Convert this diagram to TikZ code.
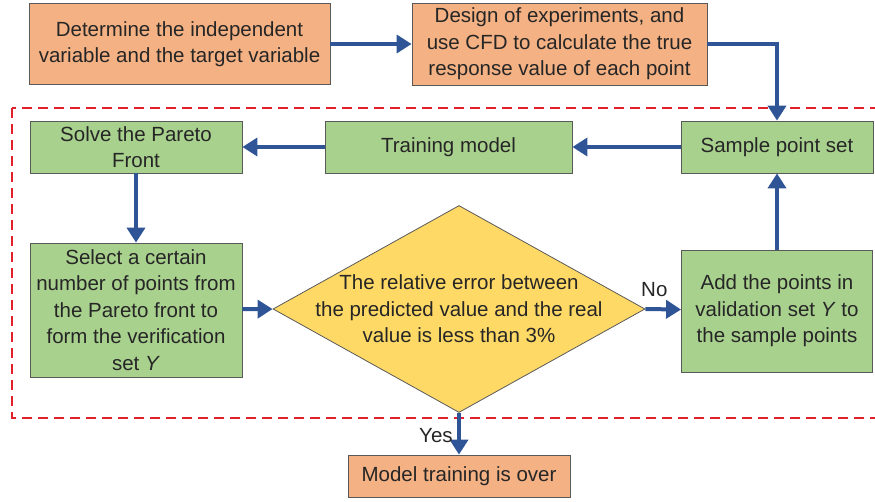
\documentclass[tikz,border=0pt]{standalone}
\usepackage{fontspec}
\setmainfont{Liberation Sans}
\usetikzlibrary{arrows.meta,positioning,shapes.geometric}

\definecolor{boxO}{HTML}{F4B183}
\definecolor{boxG}{HTML}{A9D18E}
\definecolor{boxY}{HTML}{FFD966}
\definecolor{flow}{HTML}{2F5597}
\definecolor{edge}{HTML}{595959}
\definecolor{ink}{HTML}{262626}
\definecolor{frameRed}{HTML}{E0202A}

\begin{document}
\begin{tikzpicture}[x=1pt,y=-1pt,
    every node/.style={font=\fontsize{20.5}{26.5}\selectfont, text=ink},
    stepbox/.style={draw=edge, line width=0.8pt, fill=#1, align=center, inner sep=2pt},
    decision/.style={diamond, draw=edge, line width=0.8pt, fill=boxY, inner sep=0pt,
      minimum width=372pt, minimum height=207pt},
    flowarrow/.style={draw=flow, line width=4pt, -{Triangle[length=15pt,width=18pt]}}]
  \useasboundingbox (0,0) rectangle (875,501);
  % training loop frame
  \draw[frameRed, line width=1.5pt, dash pattern=on 10pt off 6pt] (12,108) rectangle (880,418);

  % preparation
  \node[stepbox=boxO, minimum width=301pt, minimum height=81pt] (vars) at (179.5,44)
    {Determine the independent\\variable and the target variable};
  \node[stepbox=boxO, minimum width=295pt, minimum height=82pt] (doe) at (559.5,44)
    {Design of experiments, and\\use CFD to calculate the true\\response value of each point};

  % loop
  \node[stepbox=boxG, minimum width=192pt, minimum height=52pt] (sample) at (777,147) {Sample point set};
  \node[stepbox=boxG, minimum width=247pt, minimum height=52pt] (train) at (448.5,147) {Training model};
  \node[stepbox=boxG, minimum width=212pt, minimum height=52pt] (pareto) at (136,147) {Solve the Pareto\\Front};
  \node[stepbox=boxG, minimum width=212pt, minimum height=134pt] (select) at (136,310)
    {Select a certain\\number of points from\\the Pareto front to\\form the verification\\set \textit{Y}};
  \node[decision, label={[align=center]center:The relative error between\\the predicted value and the real\\value is less than 3\%}] (check) at (459,309) {};
  \node[stepbox=boxG, minimum width=191pt, minimum height=122pt] (add) at (777,311)
    {Add the points in\\validation set \textit{Y} to\\the sample points};

  \node[stepbox=boxO, minimum width=222pt, minimum height=42pt] (over) at (459,476) {Model training is over};

  % connectors
  \draw[flowarrow] (vars) -- (doe);
  \draw[flowarrow] (doe.east) -| (sample.north);
  \draw[flowarrow] (sample) -- (train);
  \draw[flowarrow] (train) -- (pareto);
  \draw[flowarrow] (pareto) -- (select);
  \draw[flowarrow] (select) -- (check.west);
  \draw[flowarrow] (check.east) -- node[pos=0.25, above=7pt] {No} (add);
  \draw[flowarrow] (add) -- (sample);
  \draw[flowarrow] (check.south) -- node[pos=0.55, left=1pt] {Yes} (over);
\end{tikzpicture}
\end{document}
